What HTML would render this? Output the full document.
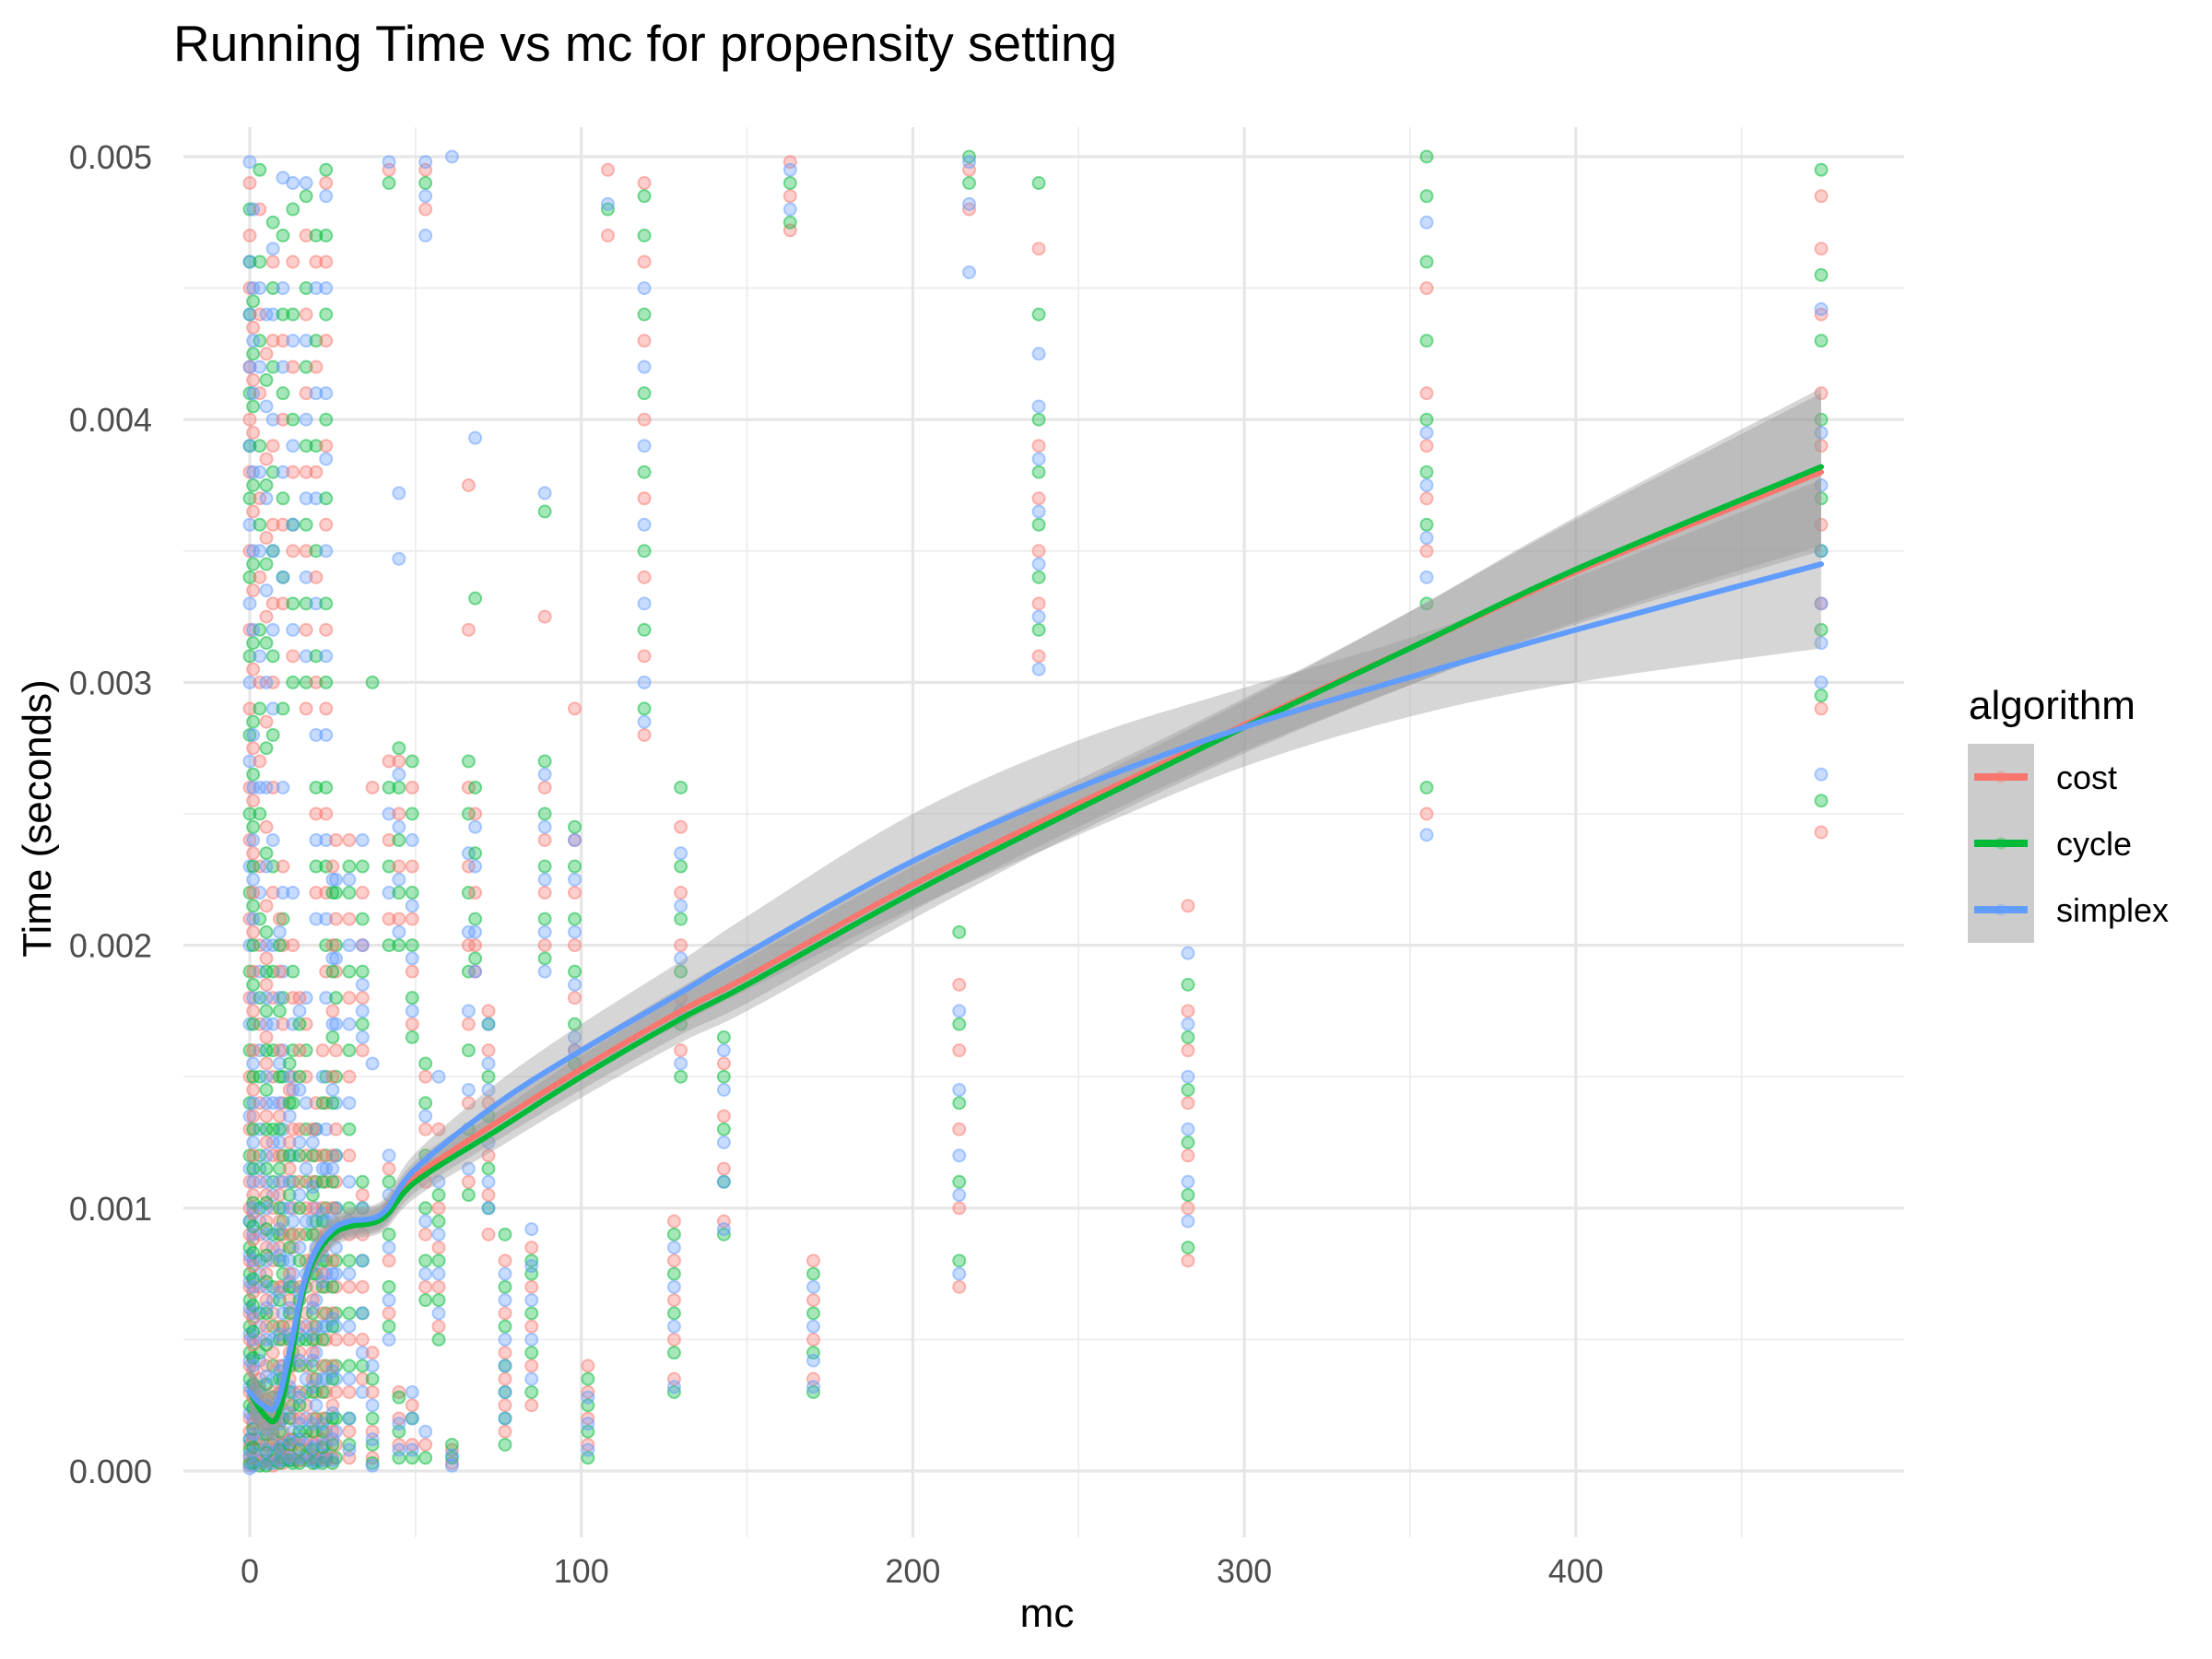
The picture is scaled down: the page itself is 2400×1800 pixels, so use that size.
<!DOCTYPE html>
<html><head><meta charset="utf-8"><style>
html,body{margin:0;padding:0;background:#fff;}
svg{display:block;font-family:"Liberation Sans",Arial,sans-serif;}
</style></head><body>
<svg id="chart" xmlns="http://www.w3.org/2000/svg" width="2400" height="1800" viewBox="0 0 2400 1800">
<rect width="2400" height="1800" fill="#fff"/>
<g id="grid"></g>
<g id="points"></g>
<g id="ribbons"></g>
<g id="lines"></g>
<g id="axes"></g>
<text x="188" y="66" font-size="55" fill="#000">Running Time vs mc for propensity setting</text>
<text x="1136" y="1765" font-size="44" fill="#000" text-anchor="middle">mc</text>
<text transform="translate(55,888) rotate(-90)" font-size="44" fill="#000" text-anchor="middle">Time (seconds)</text>
<g id="legend">
<text x="2136" y="780" font-size="44" fill="#000">algorithm</text>
<rect x="2135" y="807" width="72" height="216" fill="#cccccc"/>
</g>
</svg>
<script>
const xTicks=[0,100,200,300,400];
const xMinor=[50,150,250,350,450];
const yTicks=[0,1,2,3,4,5];
const yTickLabels=["0.000","0.001","0.002","0.003","0.004","0.005"];
const yMinor=[0.5,1.5,2.5,3.5,4.5];
const algorithms=["cost","cycle","simplex"];
const colors=["#F8766D","#00BA38","#619CFF"];
// points: [mc, times in ms...]
const costData=[
[0,0.02,0.05,0.1,0.15,0.2,0.3,0.4,0.5,0.6,0.7,0.8,0.9,1.0,1.1,1.3,1.5,1.8,2.1,2.4,2.6,2.9,3.2,3.5,3.8,4.0,4.2,4.5,4.7,4.9],
[3,0.03,0.08,0.15,0.25,0.35,0.5,0.7,0.9,1.1,1.4,1.7,2.0,2.3,2.7,3.0,3.4,3.7,4.1,4.4,4.8],
[7,0.02,0.06,0.12,0.2,0.3,0.45,0.6,0.8,1.0,1.2,1.5,1.8,2.2,2.6,3.0,3.3,3.6,3.9,4.3,4.6],
[10,0.03,0.08,0.15,0.3,0.5,0.7,0.9,1.1,1.4,1.7,2.0,2.3,3.3,3.6,4.0,4.3],
[13,0.05,0.1,0.2,0.4,0.6,0.85,1.0,1.3,1.5,1.8,2.0,3.1,3.5,3.8,4.2,4.6],
[17,0.05,0.12,0.25,0.4,0.6,0.8,1.0,1.2,1.5,1.7,2.9,3.2,3.5,3.8,4.1,4.4,4.7],
[20,0.05,0.15,0.3,0.5,0.7,0.9,1.2,1.4,2.2,2.5,3.0,3.4,3.8,4.2,4.6],
[23,0.04,0.1,0.3,0.5,0.7,0.9,1.1,1.4,1.9,2.2,2.5,2.9,3.2,3.6,3.9,4.3,4.6,4.9],
[26,0.1,0.3,0.5,0.7,0.9,1.1,1.3,1.6,1.9,2.1,2.4],
[30,0.05,0.15,0.3,0.5,0.7,0.9,1.2,1.5,1.8,2.1,2.4],
[34,1.6,1.8,2.0,2.2,0.35,0.5,0.7,0.9,1.05],
[37,0.05,0.15,0.3,0.45,2.6],
[42,0.6,0.8,1.0,1.15,2.1,2.4,2.7,4.95],
[45,2.1,2.3,2.5,2.7,0.1,0.2,0.3],
[49,1.7,1.9,2.1,2.3,2.6,0.1,0.25],
[53,0.7,0.9,1.1,1.3,1.5,4.8,4.95,0.1],
[57,0.55,0.7,0.85,1.0,1.3],
[61,0.03,0.08],
[66,1.1,1.4,1.7,2.0,2.3,2.6,3.2,3.75],
[68,2.0,2.2,2.5,1.9],
[72,1.05,1.2,1.4,1.6,1.75,0.9],
[77,0.15,0.25,0.35,0.45,0.6,0.8],
[85,0.25,0.4,0.55,0.7,0.85],
[89,2.0,2.2,2.4,2.6,3.25],
[98,1.6,1.8,2.0,2.2,2.4,2.9],
[102,0.1,0.2,0.3,0.4],
[108,4.7,4.95],
[119,2.8,3.1,3.4,3.7,4.0,4.3,4.6,4.9],
[128,0.35,0.5,0.65,0.8,0.95],
[130,1.6,1.8,2.0,2.2,2.45],
[143,0.95,1.15,1.35,1.55],
[163,4.72,4.85,4.98],
[170,0.35,0.5,0.65,0.8],
[214,0.7,1.0,1.3,1.6,1.85],
[217,4.8,4.95],
[238,3.1,3.3,3.5,3.7,3.9,4.65],
[283,0.8,1.0,1.2,1.4,1.6,1.75,2.15],
[355,2.5,3.5,3.7,3.9,4.1,4.5],
[474,2.43,2.9,3.3,3.6,3.9,4.1,4.4,4.65,4.85],
[1,0.05,0.12,0.18,0.28,0.38,0.48,0.58,0.68,0.78,0.88,0.98,1.05,1.2,1.35,1.45,1.6,1.75,1.9,2.05,2.2,2.35,2.55,2.75,3.05,3.35,3.65,3.95,4.15,4.35],
[5,0.04,0.1,0.18,0.27,0.4,0.55,0.65,0.75,0.85,0.95,1.05,1.25,1.35,1.55,1.65,1.85,1.95,2.15,2.45,2.85,3.25,3.55,3.85,4.25],
[9,0.05,0.1,0.2,0.3,0.4,0.55,0.7,0.85,0.95,1.05,1.2,1.35,1.6,1.9,2.1],
[12,0.06,0.12,0.25,0.35,0.45,0.55,0.65,0.75,0.9,1.15,1.25,1.45],
[15,0.04,0.1,0.2,0.3,0.45,0.55,0.7,0.9,1.1,1.3,1.6,1.8],
[19,0.05,0.1,0.2,0.35,0.45,0.55,0.65,0.8,1.0,1.1,1.3],
[22,0.05,0.12,0.2,0.4,0.6,0.75,0.85,1.0,1.2,1.6],
[25,0.05,0.15,0.25,0.4,0.6,0.8,1.0,1.2,1.5,1.75,2.0,2.3]
];
const cycleData=[
[0,0.03,0.08,0.12,0.25,0.35,0.45,0.55,0.65,0.75,0.85,0.95,1.2,1.4,1.6,1.9,2.2,2.5,2.8,3.1,3.4,3.7,3.9,4.1,4.4,4.6,4.8],
[3,0.02,0.1,0.2,0.3,0.45,0.6,0.8,1.0,1.2,1.5,1.8,2.1,2.5,2.9,3.2,3.6,3.9,4.3,4.6,4.95],
[7,0.04,0.1,0.18,0.28,0.4,0.55,0.7,0.9,1.1,1.3,1.6,1.9,2.3,2.8,3.1,3.5,3.8,4.2,4.5,4.75],
[10,0.05,0.1,0.2,0.35,0.55,0.75,0.95,1.2,1.5,1.8,2.1,2.9,3.4,3.7,4.1,4.4,4.7],
[13,0.03,0.12,0.25,0.45,0.7,0.9,1.1,1.4,1.6,1.9,3.0,3.3,3.6,4.0,4.4,4.8],
[17,0.06,0.15,0.3,0.5,0.7,0.9,1.1,1.3,1.6,3.0,3.3,3.6,3.9,4.2,4.5,4.85],
[20,0.04,0.2,0.35,0.55,0.75,0.95,1.1,1.3,2.3,2.6,3.1,3.5,3.9,4.3,4.7],
[23,0.05,0.2,0.4,0.6,0.8,1.0,1.2,1.5,2.0,2.3,2.6,3.0,3.3,3.7,4.0,4.4,4.7,4.95],
[26,0.05,0.2,0.4,0.6,0.8,1.0,1.2,1.5,1.8,2.0,2.2],
[30,0.1,0.2,0.4,0.6,0.8,1.0,1.3,1.6,1.9,2.2,2.3],
[34,1.7,1.9,2.1,2.3,0.4,0.6,0.8,1.0,1.1],
[37,0.03,0.1,0.2,0.35,3.0],
[42,0.55,0.7,0.9,1.1,2.0,2.3,2.6,4.9],
[45,2.0,2.2,2.4,2.6,2.75,0.05,0.15,0.28],
[49,1.65,1.8,2.0,2.2,2.5,2.7,0.05,0.2],
[53,0.65,0.8,1.0,1.2,1.4,1.55,4.9,0.05],
[57,0.5,0.65,0.8,0.95,1.05],
[61,0.05,0.1],
[66,1.05,1.3,1.6,1.9,2.2,2.5,2.7],
[68,1.95,2.1,2.35,2.6,3.32],
[72,1.0,1.15,1.35,1.5,1.7],
[77,0.1,0.2,0.3,0.4,0.55,0.7,0.9],
[85,0.3,0.45,0.6,0.75,0.8],
[89,1.95,2.1,2.3,2.5,2.7,3.65],
[98,1.55,1.7,1.9,2.1,2.3,2.45],
[102,0.05,0.15,0.25,0.35],
[108,4.8],
[119,2.9,3.2,3.5,3.8,4.1,4.4,4.7,4.85],
[128,0.3,0.45,0.6,0.75,0.9],
[130,1.5,1.7,1.9,2.1,2.3,2.6],
[143,0.9,1.1,1.3,1.5,1.65],
[163,4.75,4.9],
[170,0.3,0.45,0.6,0.75],
[214,0.8,1.1,1.4,1.7,2.05],
[217,4.9,5.0],
[238,3.2,3.4,3.6,3.8,4.0,4.4,4.9],
[283,0.85,1.05,1.25,1.45,1.65,1.85],
[355,2.6,3.3,3.6,3.8,4.0,4.3,4.6,4.85,5.0],
[474,2.55,2.95,3.2,3.5,3.7,4.0,4.3,4.55,4.95],
[1,0.03,0.09,0.16,0.24,0.33,0.43,0.53,0.63,0.73,0.83,0.93,1.02,1.15,1.3,1.5,1.7,1.85,2.0,2.15,2.3,2.45,2.65,2.85,3.15,3.45,3.75,4.05,4.25,4.45],
[5,0.02,0.07,0.14,0.22,0.33,0.48,0.6,0.72,0.82,0.92,1.02,1.15,1.3,1.45,1.6,1.75,1.9,2.05,2.35,2.75,3.15,3.45,3.75,4.15],
[9,0.03,0.08,0.15,0.25,0.35,0.5,0.65,0.8,0.9,1.0,1.15,1.3,1.5,1.75,2.0],
[12,0.04,0.1,0.2,0.3,0.4,0.5,0.6,0.7,0.85,1.05,1.2,1.4,1.55],
[15,0.03,0.08,0.15,0.25,0.4,0.5,0.65,0.8,1.0,1.2,1.5,1.7],
[19,0.03,0.08,0.15,0.3,0.4,0.5,0.6,0.75,0.9,1.05,1.2],
[22,0.03,0.09,0.15,0.3,0.5,0.7,0.8,0.95,1.1,1.4],
[25,0.03,0.1,0.2,0.35,0.55,0.7,0.9,1.1,1.4,1.65,1.9,2.2]
];
const simplexData=[
[0,0.01,0.06,0.12,0.22,0.32,0.42,0.52,0.62,0.72,0.82,0.95,1.15,1.35,1.7,2.0,2.3,2.7,3.0,3.3,3.6,3.9,4.2,4.4,4.6,4.98],
[3,0.04,0.12,0.22,0.32,0.42,0.55,0.75,0.95,1.15,1.3,1.6,1.9,2.2,2.6,3.1,3.5,3.8,4.2,4.5],
[7,0.03,0.07,0.14,0.25,0.35,0.5,0.65,0.85,1.05,1.25,1.4,1.7,2.0,2.4,2.9,3.2,3.5,4.0,4.4,4.65],
[10,0.04,0.1,0.2,0.4,0.6,0.8,1.0,1.3,1.6,1.9,2.2,2.6,3.4,3.8,4.2,4.5,4.92],
[13,0.04,0.15,0.3,0.5,0.75,0.95,1.2,1.45,1.7,2.2,3.2,3.6,3.9,4.3,4.9],
[17,0.04,0.1,0.2,0.35,0.55,0.75,0.95,1.15,1.4,1.8,3.1,3.4,3.7,4.0,4.3,4.9],
[20,0.03,0.1,0.25,0.45,0.65,0.85,1.0,1.3,2.1,2.4,2.8,3.3,3.7,4.1,4.5],
[23,0.06,0.15,0.35,0.55,0.75,0.95,1.15,1.3,1.8,2.1,2.4,2.8,3.1,3.5,3.85,4.1,4.5,4.85],
[26,0.15,0.35,0.55,0.75,0.85,1.0,1.2,1.4,1.7,1.95,2.25],
[30,0.08,0.2,0.35,0.55,0.75,0.95,1.1,1.4,1.7,2.0,2.25],
[34,1.65,1.75,1.85,2.0,2.4,0.3,0.45,0.6,0.8,1.0],
[37,0.02,0.12,0.25,0.4,1.55],
[42,0.5,0.65,0.85,1.05,1.2,2.2,2.5,4.98],
[45,2.05,2.25,2.45,2.65,3.47,3.72,0.08,0.18],
[49,1.75,1.95,2.15,2.4,0.08,0.2,0.3],
[53,0.75,0.95,1.15,1.35,4.7,4.85,4.98,0.15],
[57,0.6,0.75,0.9,1.1,1.5],
[61,0.02,0.06,5.0],
[66,1.15,1.45,1.75,2.05,2.35],
[68,1.9,2.05,2.3,2.45,3.93],
[72,1.1,1.25,1.45,1.55,1.7,1.0],
[77,0.2,0.3,0.4,0.5,0.65,0.75],
[85,0.35,0.5,0.65,0.78,0.92],
[89,1.9,2.05,2.25,2.45,2.65,3.72],
[98,1.65,1.85,2.05,2.25,2.4,1.6],
[102,0.08,0.18,0.28],
[108,4.82],
[119,2.85,3.0,3.3,3.6,3.9,4.2,4.5],
[128,0.32,0.55,0.7,0.85],
[130,1.55,1.75,1.95,2.15,2.35],
[143,0.92,1.1,1.25,1.45,1.6],
[163,4.8,4.95],
[170,0.32,0.42,0.55,0.7],
[214,0.75,1.05,1.2,1.45,1.75],
[217,4.56,4.82,4.98],
[238,3.05,3.25,3.45,3.65,3.85,4.05,4.25],
[283,0.95,1.1,1.3,1.5,1.7,1.97],
[355,2.42,3.4,3.55,3.75,3.95,4.75],
[474,2.65,3.0,3.15,3.3,3.5,3.75,3.95,4.42],
[1,0.02,0.07,0.14,0.2,0.3,0.4,0.5,0.6,0.7,0.8,0.9,1.0,1.1,1.25,1.4,1.55,1.8,2.1,2.25,2.4,2.6,2.8,3.2,3.5,3.8,4.1,4.3,4.5,4.8],
[5,0.03,0.08,0.16,0.25,0.36,0.5,0.62,0.7,0.8,0.9,1.0,1.1,1.2,1.4,1.5,1.7,1.8,2.0,2.3,2.6,3.0,3.35,3.7,4.05,4.4],
[9,0.04,0.09,0.18,0.28,0.38,0.52,0.68,0.82,0.92,1.1,1.25,1.4,1.55,1.8,2.05],
[12,0.05,0.11,0.22,0.32,0.42,0.52,0.62,0.72,0.8,1.0,1.1,1.35,1.5],
[15,0.05,0.12,0.18,0.28,0.42,0.52,0.68,0.85,1.05,1.25,1.45,1.75],
[19,0.04,0.09,0.18,0.32,0.42,0.52,0.62,0.78,0.95,1.08,1.25],
[22,0.04,0.1,0.18,0.35,0.55,0.72,0.82,0.98,1.15,1.5],
[25,0.04,0.12,0.22,0.38,0.58,0.75,0.95,1.15,1.45,1.7,1.95,2.25]
];
const smoothMc=[0,4,8,12,16,20,25,30,40,50,75,100,130,150,200,250,300,350,400,474];
const costFit=[0.3,0.22,0.2,0.4,0.68,0.82,0.91,0.94,0.97,1.12,1.33,1.53,1.75,1.88,2.23,2.54,2.84,3.13,3.42,3.80];
const cycleFit=[0.3,0.22,0.2,0.4,0.68,0.82,0.9,0.93,0.96,1.1,1.3,1.5,1.72,1.85,2.2,2.52,2.83,3.13,3.43,3.82];
const simplexFit=[0.3,0.25,0.25,0.45,0.7,0.84,0.92,0.95,0.98,1.15,1.4,1.6,1.82,1.97,2.32,2.6,2.83,3.02,3.2,3.45];
const costSe=[0.1,0.08,0.07,0.06,0.06,0.05,0.05,0.05,0.05,0.06,0.07,0.08,0.09,0.1,0.1,0.09,0.1,0.14,0.2,0.3];
const cycleSe=[0.1,0.08,0.07,0.06,0.06,0.05,0.05,0.05,0.05,0.06,0.07,0.08,0.09,0.1,0.1,0.09,0.1,0.14,0.2,0.3];
const simplexSe=[0.1,0.08,0.07,0.06,0.06,0.06,0.05,0.05,0.05,0.06,0.08,0.1,0.12,0.14,0.18,0.18,0.15,0.15,0.2,0.32];

const NS="http://www.w3.org/2000/svg";
const L=199,R=2066,T=138,B=1668;
function X(mc){return 271+3.597*mc;}
function Y(ms){return 1596-285.2*ms;}
function mk(tag,attrs,parent){const e=document.createElementNS(NS,tag);for(const k in attrs)e.setAttribute(k,attrs[k]);parent.appendChild(e);return e;}
function smoothPath(p,move){let d=(move?'M':'L')+p[0][0]+','+p[0][1];
for(let i=0;i<p.length-1;i++){const p0=p[Math.max(i-1,0)],p1=p[i],p2=p[i+1],p3=p[Math.min(i+2,p.length-1)];
const c1x=p1[0]+(p2[0]-p0[0])/6,c1y=p1[1]+(p2[1]-p0[1])/6,c2x=p2[0]-(p3[0]-p1[0])/6,c2y=p2[1]-(p3[1]-p1[1])/6;
d+=' C'+c1x+','+c1y+' '+c2x+','+c2y+' '+p2[0]+','+p2[1];}return d;}
const grid=document.getElementById('grid');
yMinor.forEach(v=>{const l=mk('line',{x1:L,x2:R,y1:Y(v),y2:Y(v),stroke:'#ebebeb','stroke-width':1.6},grid);

});
xMinor.forEach(v=>{const l=mk('line',{x1:X(v),x2:X(v),y1:T,y2:B,stroke:'#ebebeb','stroke-width':1.6},grid);

});
yTicks.forEach(v=>{const l=mk('line',{x1:L,x2:R,y1:Y(v),y2:Y(v),stroke:'#e6e6e6','stroke-width':3.2},grid);

});
xTicks.forEach(v=>{const l=mk('line',{x1:X(v),x2:X(v),y1:T,y2:B,stroke:'#e6e6e6','stroke-width':3.2},grid);

});
const axes=document.getElementById('axes');
yTicks.forEach((v,i)=>{const t=mk('text',{x:165,y:Y(v)+13,'font-size':36,fill:'#4d4d4d','text-anchor':'end'},axes);t.textContent=yTickLabels[i];

});
xTicks.forEach(v=>{const t=mk('text',{x:X(v),y:1717,'font-size':36,fill:'#4d4d4d','text-anchor':'middle'},axes);t.textContent=String(v);

});
const pts=document.getElementById('points');
const datas=[costData,cycleData,simplexData];
const maxLen=Math.max(...datas.map(d=>d.length));
for(let c=0;c<maxLen;c++){for(let a=0;a<3;a++){const cl=datas[a][c];if(!cl)continue;const mc=cl[0];
for(let j=1;j<cl.length;j++){const p=mk('circle',{cx:X(mc),cy:Y(cl[j]),r:6.5,fill:colors[a],'fill-opacity':0.35,stroke:colors[a],'stroke-opacity':0.5,'stroke-width':2},pts);

}}}
const fits=[costFit,cycleFit,simplexFit],ses=[costSe,cycleSe,simplexSe];
const rib=document.getElementById('ribbons'),lines=document.getElementById('lines');
for(let a=0;a<3;a++){const up=smoothMc.map((m,i)=>[X(m),Y(fits[a][i]+ses[a][i])]);const lo=smoothMc.map((m,i)=>[X(m),Y(fits[a][i]-ses[a][i])]).reverse();
const r=mk('path',{d:smoothPath(up,true)+' '+smoothPath(lo,false)+' Z',fill:'#999999','fill-opacity':0.4},rib);

}
for(let a=0;a<3;a++){const p=smoothMc.map((m,i)=>[X(m),Y(fits[a][i])]);
const l=mk('path',{d:smoothPath(p,true),fill:'none',stroke:colors[a],'stroke-width':6,'stroke-linejoin':'round','stroke-linecap':'round'},lines);

}
const leg=document.getElementById('legend');
const ly=[843,915,987];
for(let a=0;a<3;a++){
const c=mk('circle',{cx:2171,cy:ly[a],r:6.5,fill:colors[a],'fill-opacity':0.3},leg);


const l=mk('line',{x1:2142,x2:2200,y1:ly[a],y2:ly[a],stroke:colors[a],'stroke-width':8},leg);


const t=mk('text',{x:2231,y:ly[a]+13,'font-size':36,fill:'#000'},leg);t.textContent=algorithms[a];

}
</script>
</body></html>
